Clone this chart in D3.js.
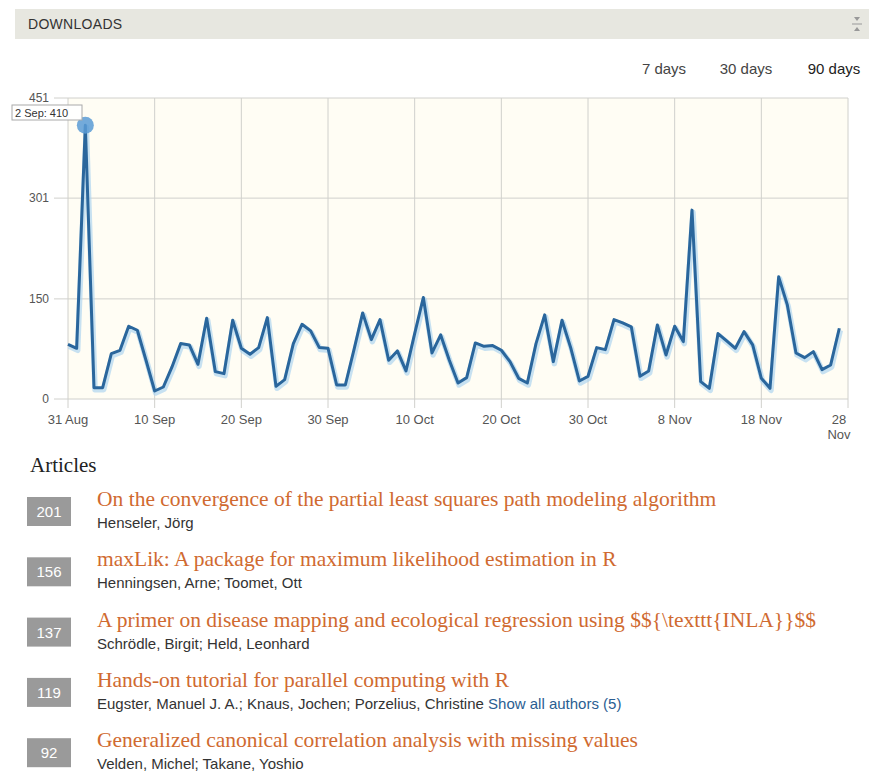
<!DOCTYPE html>
<html>
<head>
<meta charset="utf-8">
<script src="https://cdn.jsdelivr.net/npm/d3@7"></script>
<style>
    body { margin: 0; background: #fff; }
    svg text { font-family: "Liberation Sans", Arial, sans-serif; }
    .serif { font-family: "Liberation Serif", "Times New Roman", serif !important; }
</style>
</head>
<body>
<div id="chart"></div>
<script>
// daily downloads, 31 Aug .. 28 Nov (index = day since 31 Aug)
var downloads = [82, 76, 410, 17, 17, 68, 73, 109, 103, 58,
                 12, 18, 48, 83, 81, 52, 121, 41, 38, 118,
                 76, 67, 77, 122, 19, 29, 83, 112, 102, 77,
                 76, 21, 21, 74, 129, 89, 119, 58, 72, 42,
                 98, 152, 69, 96, 58, 24, 32, 84, 79, 80,
                 73, 56, 31, 24, 83, 126, 56, 118, 77, 27,
                 34, 77, 74, 119, 114, 108, 34, 42, 111, 66,
                 109, 86, 283, 26, 16, 98, 87, 76, 101, 81,
                 31, 16, 183, 141, 69, 62, 71, 44, 51, 106];
var xTickDays = [0, 10, 20, 30, 40, 50, 60, 70, 80, 90];
var xTickLabels = ["31 Aug", "10 Sep", "20 Sep", "30 Sep", "10 Oct", "20 Oct", "30 Oct", "8 Nov", "18 Nov", "28 Nov"];
var yTicks = [0, 150, 301, 451];
var yMax = 451;
var highlightDay = 2;
var highlightLabel = "2 Sep";
var ranges = ["7 days", "30 days", "90 days"];

var articleCounts = [201, 156, 137, 119, 92];
var articleTitles = [
    "On the convergence of the partial least squares path modeling algorithm",
    "maxLik: A package for maximum likelihood estimation in R",
    "A primer on disease mapping and ecological regression using $${\\texttt{INLA}}$$",
    "Hands-on tutorial for parallel computing with R",
    "Generalized canonical correlation analysis with missing values"
];
var articleAuthors = [
    "Henseler, Jörg",
    "Henningsen, Arne; Toomet, Ott",
    "Schrödle, Birgit; Held, Leonhard",
    "Eugster, Manuel J. A.; Knaus, Jochen; Porzelius, Christine",
    "Velden, Michel; Takane, Yoshio"
];
var articleMore = ["", "", "", "Show all authors (5)", ""];

var width = 869, height = 774;
var plot = { left: 68, right: 848, top: 98, bottom: 399 };

var svg = d3.select("#chart").append("svg")
    .attr("width", width)
    .attr("height", height);

// header bar
svg.append("rect")
    .attr("x", 15).attr("y", 9)
    .attr("width", width - 15).attr("height", 30)
    .style("fill", "#e7e7e0");
svg.append("text")
    .attr("x", 28).attr("y", 29)
    .style("font-size", "14px")
    .style("letter-spacing", "0.3px")
    .style("fill", "#333")
    .text("DOWNLOADS");
var icon = svg.append("g").attr("transform", "translate(857,24)").style("fill", "#999");
icon.append("path").attr("d", "M-3,-7 L3,-7 L0,-3 Z");
icon.append("rect").attr("x", -5).attr("y", -0.5).attr("width", 10).attr("height", 1);
icon.append("path").attr("d", "M-3,7 L3,7 L0,3 Z");

// range selector
var rangeX = [664, 746, 834];
svg.selectAll(".range")
    .data(ranges)
    .enter().append("text")
    .attr("class", "range")
    .attr("x", function (d, i) { return rangeX[i]; })
    .attr("y", 74)
    .attr("text-anchor", "middle")
    .style("font-size", "15px")
    .style("fill", function (d, i) { return i == 2 ? "#222" : "#444"; })
    .text(function (d) { return d; });

// chart
var x = d3.scaleLinear().domain([0, 90]).range([plot.left, plot.right]);
var y = d3.scaleLinear().domain([0, yMax]).range([plot.bottom, plot.top]);

svg.append("rect")
    .attr("x", plot.left).attr("y", plot.top)
    .attr("width", plot.right - plot.left).attr("height", plot.bottom - plot.top)
    .style("fill", "#fffdf4");

var grid = svg.append("g").style("stroke", "#d0d0cc").style("stroke-width", 1);
grid.selectAll(".vgrid")
    .data(xTickDays)
    .enter().append("line")
    .attr("x1", function (d) { return x(d); }).attr("x2", function (d) { return x(d); })
    .attr("y1", plot.top).attr("y2", plot.bottom + 9);
grid.selectAll(".hgrid")
    .data(yTicks)
    .enter().append("line")
    .attr("x1", plot.left - 14).attr("x2", plot.right)
    .attr("y1", function (d) { return y(d); }).attr("y2", function (d) { return y(d); });

svg.selectAll(".ylab")
    .data(yTicks)
    .enter().append("text")
    .attr("x", plot.left - 19)
    .attr("y", function (d) { return y(d) + 4; })
    .attr("text-anchor", "end")
    .style("font-size", "12px")
    .style("fill", "#555")
    .text(function (d) { return d; });

var xl = svg.selectAll(".xlab")
    .data(xTickDays)
    .enter().append("text")
    .attr("x", function (d, i) { return i == xTickDays.length - 1 ? x(d) - 9 : x(d); })
    .attr("y", 424)
    .attr("text-anchor", "middle")
    .style("font-size", "13px")
    .style("fill", "#555");
xl.each(function (d, i) {
    var parts = i == xTickDays.length - 1 ? xTickLabels[i].split(" ") : [xTickLabels[i]];
    var t = d3.select(this);
    parts.forEach(function (p, k) {
        t.append("tspan")
            .attr("x", t.attr("x"))
            .attr("dy", k == 0 ? 0 : 15)
            .text(p);
    });
});

var line = d3.line()
    .x(function (d, i) { return x(i); })
    .y(function (d) { return y(d); });

svg.append("path")
    .datum(downloads)
    .attr("d", line)
    .attr("transform", "translate(1,2)")
    .style("fill", "none")
    .style("stroke", "#a9d2f0")
    .style("stroke-width", 5.5)
    .style("stroke-opacity", 0.65)
    .style("stroke-linejoin", "round");
svg.append("path")
    .datum(downloads)
    .attr("d", line)
    .style("fill", "none")
    .style("stroke", "#2a669c")
    .style("stroke-width", 3)
    .style("stroke-linejoin", "round");

// highlighted point + tooltip
svg.append("circle")
    .attr("cx", x(highlightDay)).attr("cy", y(downloads[highlightDay]))
    .attr("r", 8.5)
    .style("fill", "#5b9bd5")
    .style("fill-opacity", 0.85);
var tip = svg.append("g").attr("transform", "translate(12,105)");
tip.append("rect")
    .attr("width", 70).attr("height", 15)
    .style("fill", "#fff").style("fill-opacity", 0.9)
    .style("stroke", "#aaa");
tip.append("text")
    .attr("x", 3).attr("y", 11.5)
    .style("font-size", "11px")
    .style("fill", "#333")
    .text(highlightLabel + ": " + downloads[highlightDay]);

// articles list
svg.append("text")
    .attr("class", "serif")
    .attr("x", 30).attr("y", 472)
    .style("font-size", "21px")
    .style("fill", "#222")
    .text("Articles");

var rows = svg.selectAll(".article")
    .data(articleCounts)
    .enter().append("g")
    .attr("transform", function (d, i) { return "translate(0," + (497 + i * 60.3) + ")"; });
rows.append("rect")
    .attr("x", 27).attr("width", 44).attr("height", 29)
    .style("fill", "#9a9a9a");
rows.append("text")
    .attr("x", 49).attr("y", 20)
    .attr("text-anchor", "middle")
    .style("font-size", "15px")
    .style("fill", "#fff")
    .text(function (d) { return d; });
rows.append("text")
    .attr("class", "serif")
    .attr("x", 97).attr("y", 9)
    .style("font-size", "21.5px")
    .style("fill", "#d06a30")
    .text(function (d, i) { return articleTitles[i]; });
var au = rows.append("text")
    .attr("x", 97).attr("y", 31)
    .style("font-size", "15px")
    .style("fill", "#333");
au.append("tspan").text(function (d, i) { return articleAuthors[i]; });
au.append("tspan")
    .style("fill", "#2a5e92")
    .text(function (d, i) { return articleMore[i] ? " " + articleMore[i] : ""; });
</script>
</body>
</html>
